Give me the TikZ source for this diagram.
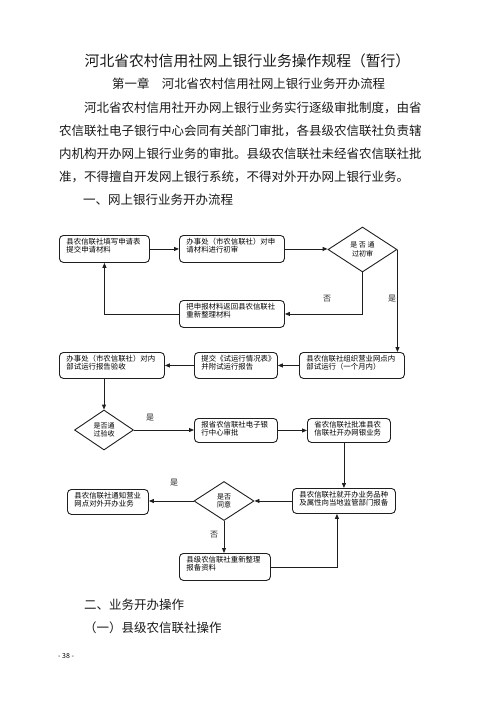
\documentclass[tikz,border=0pt]{standalone}
\usepackage{fontspec}
\setmainfont{Liberation Serif}
\newfontfamily\cjk{Noto Sans CJK SC}
\usetikzlibrary{shapes.geometric,arrows.meta}
\newcommand\fbtext[3]{\parbox[c][#2pt][t]{#1pt}{\raggedright\vspace*{2.8pt}#3}}
\begin{document}
\begin{tikzpicture}[x=1pt,y=-1pt,
  line/.style={draw=black!88, line width=0.9pt},
  arr/.style={line, -{Triangle[length=5pt,width=4pt]}},
  flowbox/.style={draw=black!88, line width=0.9pt, rounded corners=4pt, anchor=north west, inner xsep=7pt, inner ysep=0pt, font=\cjk\fontsize{7.4}{8.4}\selectfont},
  dia/.style={draw=black!88, line width=0.9pt, diamond, inner sep=0pt, align=center, font=\cjk\fontsize{7}{8.5}\selectfont},
  lbl/.style={font=\cjk\fontsize{8}{9}\selectfont, inner sep=0pt, text=black!85},
  body/.style={font=\cjk\fontsize{12.5}{14}\selectfont, anchor=west, inner sep=0pt, text=black!90}
]
\useasboundingbox[fill=white] (0,0) rectangle (496,702);

% headings and paragraph
\node[font=\cjk\fontsize{14.8}{16}\selectfont, inner sep=0pt, text=black!90] (title) at (247.5,61) {河北省农村信用社网上银行业务操作规程（暂行）};
\node[font=\cjk\fontsize{12.4}{14}\selectfont, anchor=west, inner sep=0pt, text=black!90] (chap) at (112,84) {第一章\hspace{12.5pt}河北省农村信用社网上银行业务开办流程};
\node[body] (p1) at (84,108) {河北省农村信用社开办网上银行业务实行逐级审批制度，由省};
\node[body] (p2) at (59,130.5) {农信联社电子银行中心会同有关部门审批，各县级农信联社负责辖};
\node[body] (p3) at (59,153.5) {内机构开办网上银行业务的审批。县级农信联社未经省农信联社批};
\node[body] (p4) at (59,177) {准，不得擅自开发网上银行系统，不得对外开办网上银行业务。};
\node[body] (s1) at (83,200) {一、网上银行业务开办流程};
\node[body] (s2) at (84,605) {二、业务开办操作};
\node[body] (s3) at (84,628) {（一）县级农信联社操作};
\node[font=\cjk\fontsize{7}{8}\selectfont, anchor=west, inner sep=0pt] (pg) at (58,656) {- 38 -};

% boxes
\node[flowbox] (b1) at (59,235) {\fbtext{76}{27}{县农信联社填写申请表\\提交申请材料}};
\node[flowbox] (b2) at (179,235) {\fbtext{91}{27}{办事处（市农信联社）对申\\请材料进行初审}};
\node[dia, minimum width=69pt, minimum height=45pt] (d1) at (362.5,249.5) {是 否 通\\过初审};
\node[flowbox] (b4) at (179,300) {\fbtext{91}{27}{把申报材料返回县农信联社\\重新整理材料}};
\node[flowbox] (b5) at (299,352) {\fbtext{91}{26}{县农信联社组织营业网点内\\部试运行（一个月内）}};
\node[flowbox] (b6) at (194,352) {\fbtext{69}{26}{提交《试运行情况表》\\并附试运行报告}};
\node[flowbox] (b7) at (59,352) {\fbtext{91}{26}{办事处（市农信联社）对内\\部试运行报告验收}};
\node[dia, minimum width=59pt, minimum height=40pt] (d2) at (104,430) {是否通\\过验收};
\node[flowbox] (b9) at (194,418) {\fbtext{69}{24}{报省农信联社电子银\\行中心审批}};
\node[flowbox] (b10) at (307,418) {\fbtext{69}{24}{省农信联社批准县农\\信联社开办网银业务}};
\node[flowbox] (b11) at (292,488) {\fbtext{89}{25}{县农信联社就开办业务品种\\及属性向当地监管部门报备}};
\node[dia, minimum width=60pt, minimum height=39pt] (d3) at (224,501) {是否\\同意};
\node[flowbox] (b13) at (67,489) {\fbtext{67}{25}{县农信联社通知营业\\网点对外开办业务}};
\node[flowbox] (b14) at (179,553) {\fbtext{77}{27}{县级农信联社重新整理\\报备资料}};

% labels
\node[lbl] (l1) at (327,299) {否};
\node[lbl] (l2) at (392,299) {是};
\node[lbl] (l3) at (150,418) {是};
\node[lbl] (l4) at (174,483) {是};
\node[lbl] (l5) at (214,535) {否};

% connectors
\draw[arr] (b1.east) -- (b2.west);
\draw[arr] (b2.east) -- (b2.east -| d1.west);
\draw[arr] (d1.south) |- (b4.east);
\draw[arr] (b4.west) -| (b1.south);
\draw[arr] (d1.east) -- (d1.east |- b5.north);
\draw[arr] (b5.west) -- (b6.east);
\draw[arr] (b6.west) -- (b7.east);
\draw[arr] (d2.north |- b7.south) -- (d2.north);
\draw[arr] (d2.east) -- (d2.east -| b9.west);
\draw[arr] (b9.east) -- (b10.west);
\draw[arr] (b11.north |- b10.south) -- (b11.north);
\draw[arr] (b11.west) -- (b11.west -| d3.east);
\draw[arr] (d3.west) -- (d3.west -| b13.east);
\draw[arr] (d3.south) -- (d3.south |- b14.north);
\coordinate (j) at ([xshift=-7pt]b11.south);
\draw[arr] (b14.east) -| (j);
\end{tikzpicture}
\end{document}
